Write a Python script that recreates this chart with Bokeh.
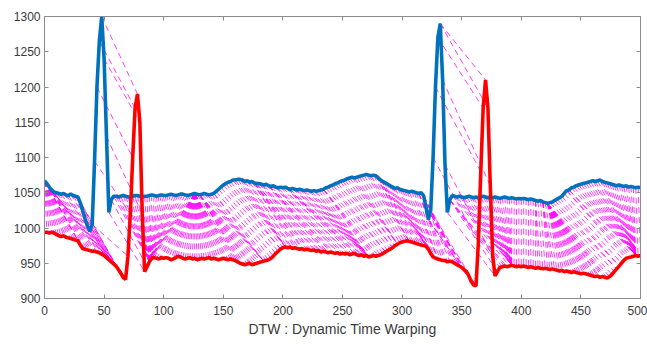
import numpy as np
from bokeh.plotting import figure
from bokeh.models import LinearAxis, FixedTicker, Range1d
from bokeh.embed import file_html
from bokeh.resources import INLINE

sample_x = list(range(0, 501, 2))

blue_y = [
    1067, 1063, 1058, 1054, 1051, 1050, 1049, 1048, 1049, 1047,   # 0-18
    1046, 1048, 1046, 1045, 1044, 1036, 1025, 1013, 1003, 995,    # 20-38
    1005, 1095, 1200, 1265, 1300, 1240, 1130, 1022, 1040, 1045,   # 40-58
    1045, 1044, 1045, 1046, 1045, 1044, 1044, 1045, 1046, 1046,   # 60-78
    1045, 1044, 1045, 1045, 1046, 1047, 1046, 1045, 1046, 1047,   # 80-98
    1046, 1046, 1047, 1048, 1047, 1046, 1047, 1048, 1048, 1047,   # 100-118
    1046, 1047, 1048, 1049, 1048, 1047, 1048, 1049, 1048, 1047,   # 120-138
    1048, 1049, 1052, 1055, 1058, 1061, 1063, 1065, 1066, 1068,   # 140-158
    1068, 1069, 1069, 1068, 1066, 1067, 1065, 1066, 1064, 1063,   # 160-178
    1063, 1062, 1061, 1062, 1060, 1059, 1060, 1058, 1057, 1058,   # 180-198
    1057, 1058, 1056, 1055, 1056, 1055, 1054, 1055, 1054, 1053,   # 200-218
    1054, 1053, 1052, 1053, 1052, 1053, 1054, 1055, 1057, 1058,   # 220-238
    1060, 1061, 1063, 1064, 1066, 1067, 1068, 1070, 1071, 1072,   # 240-258
    1071, 1072, 1073, 1074, 1075, 1076, 1075, 1074, 1075, 1074,   # 260-278
    1071, 1068, 1066, 1064, 1062, 1060, 1058, 1056, 1057, 1055,   # 280-298
    1054, 1053, 1052, 1051, 1052, 1051, 1050, 1049, 1050, 1046,   # 300-318
    1030, 1012, 1025, 1100, 1200, 1270, 1290, 1210, 1090, 1022,   # 320-338
    1040, 1046, 1045, 1044, 1045, 1044, 1043, 1044, 1045, 1044,   # 340-358
    1043, 1044, 1043, 1044, 1045, 1044, 1043, 1044, 1043, 1044,   # 360-378
    1043, 1042, 1043, 1044, 1043, 1042, 1043, 1042, 1041, 1042,   # 380-398
    1041, 1042, 1041, 1040, 1041, 1040, 1039, 1038, 1039, 1037,   # 400-418
    1036, 1035, 1036, 1037, 1039, 1041, 1043, 1045, 1049, 1053,   # 420-438
    1054, 1057, 1058, 1060, 1061, 1062, 1063, 1064, 1065, 1066,   # 440-458
    1067, 1066, 1067, 1068, 1066, 1065, 1064, 1063, 1062, 1061,   # 460-478
    1060, 1061, 1060, 1059, 1060, 1058, 1059, 1058, 1057, 1058,   # 480-498
    1057,                                                         # 500
]

red_y = [
    994, 994, 993, 994, 993, 991, 989, 988, 989, 987,             # 0-18
    986, 985, 984, 983, 982, 976, 971, 970, 969, 968,             # 20-38
    967, 967, 966, 965, 963, 961, 958, 955, 952, 949,             # 40-58
    946, 941, 936, 930, 927, 960, 1020, 1100, 1170, 1190,         # 60-78
    1150, 1020, 938, 945, 952, 957, 958, 957, 956, 958,           # 80-98
    957, 958, 957, 955, 956, 958, 960, 959, 957, 956,             # 100-118
    957, 958, 956, 957, 955, 956, 957, 956, 957, 958,             # 120-138
    956, 957, 956, 955, 956, 957, 956, 955, 956, 955,             # 140-158
    954, 952, 950, 949, 948, 949, 950, 948, 949, 950,             # 160-178
    951, 952, 953, 954, 955, 957, 960, 964, 967, 970,             # 180-198
    972, 973, 972, 973, 971, 972, 971, 970, 971, 969,             # 200-218
    970, 969, 968, 969, 967, 968, 966, 967, 966, 965,             # 220-238
    966, 965, 964, 965, 963, 964, 963, 964, 962, 963,             # 240-258
    964, 962, 961, 962, 960, 961, 959, 960, 961, 960,             # 260-278
    961, 962, 964, 966, 968, 970, 972, 975, 977, 979,             # 280-298
    980, 981, 982, 981, 980, 979, 978, 977, 976, 975,             # 300-318
    974, 970, 964, 959, 957, 956, 955, 954, 954, 952,             # 320-338
    953, 952, 950, 948, 946, 944, 941, 938, 932, 924,             # 340-358
    919, 918, 980, 1080, 1170, 1210, 1170, 1060, 960, 932,        # 360-378
    938, 944, 945, 946, 945, 946, 947, 946, 945, 946,             # 380-398
    945, 946, 945, 944, 945, 944, 943, 944, 943, 942,             # 400-418
    943, 942, 941, 942, 941, 940, 939, 940, 938, 939,             # 420-438
    938, 937, 938, 937, 936, 935, 936, 935, 934, 933,             # 440-458
    932, 931, 932, 930, 931, 930, 929, 931, 934, 938,             # 460-478
    942, 946, 950, 954, 957, 958, 959, 960, 961, 960,             # 480-498
    961,                                                          # 500
]

x_ticks = [0, 50, 100, 150, 200, 250, 300, 350, 400, 450, 500]
y_ticks = [900, 950, 1000, 1050, 1100, 1150, 1200, 1250, 1300]
x_title = "DTW : Dynamic Time Warping"

assert len(blue_y) == len(sample_x) and len(red_y) == len(sample_x)

# ---- dynamic time warping alignment between the two signals ----
bx = np.array(sample_x, dtype=float)
b = np.array(blue_y, dtype=float)
r = np.array(red_y, dtype=float)
bn = (b - b.mean()) / b.std()
rn = (r - r.mean()) / r.std()
n, m = len(bn), len(rn)
cost = np.abs(bn[:, None] - rn[None, :])
D = np.full((n + 1, m + 1), np.inf)
D[0, 0] = 0.0
for i in range(1, n + 1):
    row_prev = D[i - 1]
    row = D[i]
    ci = cost[i - 1]
    for j in range(1, m + 1):
        a1 = row_prev[j]
        a2 = row[j - 1]
        a3 = row_prev[j - 1]
        mn = a1 if a1 < a2 else a2
        mn = mn if mn < a3 else a3
        row[j] = ci[j - 1] + mn
i, j = n, m
path = [(i - 1, j - 1)]
while i > 1 or j > 1:
    choices = [(D[i - 1, j - 1], i - 1, j - 1), (D[i - 1, j], i - 1, j), (D[i, j - 1], i, j - 1)]
    choices = [c for c in choices if c[1] >= 1 and c[2] >= 1]
    _, i, j = min(choices, key=lambda c: c[0])
    path.append((i - 1, j - 1))
path.reverse()
pi = np.array([p_[0] for p_ in path])
pj = np.array([p_[1] for p_ in path])

# ---- figure ----
FONT = "Liberation Sans"
GRAY = "#3a3a3a"
AXC = "#8c8c8c"
p = figure(width=647, height=345, output_backend="svg", toolbar_location=None,
           x_range=Range1d(0, 500), y_range=Range1d(900, 1300),
           min_border_left=44, min_border_right=7, min_border_top=16, min_border_bottom=47,
           background_fill_color="white", border_fill_color="white")
p.grid.visible = False
p.outline_line_color = AXC

p.segment(bx[pi], b[pi], bx[pj], r[pj], line_color="#ff00ff", line_width=0.9,
          line_dash="6 4", line_alpha=0.85)
p.line(sample_x, blue_y, line_color="#0072bd", line_width=3.6)
p.line(sample_x, red_y, line_color="#ff0000", line_width=3.6)

for ax, ticks in ((p.xaxis[0], x_ticks), (p.yaxis[0], y_ticks)):
    ax.ticker = FixedTicker(ticks=ticks)
    ax.major_tick_in = 4
    ax.major_tick_out = 0
    ax.minor_tick_line_color = None
    ax.axis_line_color = AXC
    ax.major_tick_line_color = AXC
    ax.major_label_text_font = FONT
    ax.major_label_text_font_size = "12px"
    ax.major_label_text_color = GRAY
p.yaxis[0].major_label_standoff = 4
p.xaxis[0].major_label_standoff = 7

p.xaxis[0].axis_label = x_title
p.xaxis[0].axis_label_text_font = FONT
p.xaxis[0].axis_label_text_font_size = "14px"
p.xaxis[0].axis_label_text_font_style = "normal"
p.xaxis[0].axis_label_text_color = GRAY
p.xaxis[0].axis_label_standoff = 3

for loc, ticks in (("above", x_ticks), ("right", y_ticks)):
    ax = LinearAxis(ticker=FixedTicker(ticks=ticks))
    ax.major_tick_in = 4
    ax.major_tick_out = 0
    ax.minor_tick_line_color = None
    ax.axis_line_color = AXC
    ax.major_tick_line_color = AXC
    ax.major_label_overrides = {t: "" for t in ticks}
    ax.major_label_standoff = 0
    p.add_layout(ax, loc)

open("out.html", "w").write(file_html(p, INLINE))
